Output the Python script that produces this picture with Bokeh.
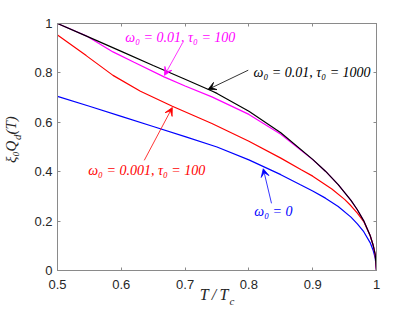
from bokeh.plotting import figure
from bokeh.models import Range1d, FixedTicker, LinearAxis, Label, Arrow, VeeHead
from bokeh.embed import file_html
from bokeh.resources import INLINE

# ---------------- data ----------------
t_black = [0.5, 0.55, 0.6, 0.65, 0.7, 0.742, 0.75, 0.8, 0.85, 0.9, 0.92, 0.94, 0.96, 0.97, 0.98, 0.99, 0.995, 0.998, 1.0]
q_black = [1.0, 0.944, 0.887, 0.830, 0.774, 0.727, 0.717, 0.645, 0.558, 0.450, 0.402, 0.348, 0.284, 0.246, 0.201, 0.142, 0.100, 0.064, 0.0]

t_magenta = [0.5, 0.545, 0.587, 0.62, 0.667, 0.7, 0.742, 0.8, 0.85, 0.9, 0.92, 0.94, 0.96, 0.97, 0.98, 0.99, 0.995, 0.998, 1.0]
q_magenta = [1.0, 0.950, 0.885, 0.843, 0.784, 0.747, 0.703, 0.632, 0.552, 0.449, 0.402, 0.348, 0.284, 0.246, 0.201, 0.142, 0.100, 0.064, 0.0]

t_red = [0.5, 0.545, 0.587, 0.63, 0.68, 0.742, 0.8, 0.85, 0.882, 0.9, 0.93, 0.95, 0.96, 0.97, 0.98, 0.99, 0.995, 0.998, 1.0]
q_red = [0.953, 0.870, 0.790, 0.726, 0.665, 0.595, 0.523, 0.455, 0.408, 0.382, 0.330, 0.288, 0.262, 0.232, 0.198, 0.142, 0.100, 0.064, 0.0]

t_blue = [0.5, 0.55, 0.6, 0.65, 0.7, 0.75, 0.8, 0.85, 0.88, 0.9, 0.92, 0.94, 0.96, 0.97, 0.98, 0.99, 0.995, 0.998, 1.0]
q_blue = [0.705, 0.665, 0.624, 0.583, 0.542, 0.500, 0.448, 0.388, 0.348, 0.322, 0.293, 0.259, 0.216, 0.189, 0.157, 0.113, 0.080, 0.050, 0.0]

x_ticks = [0.5, 0.6, 0.7, 0.8, 0.9, 1.0]
x_tick_labels = ["0.5", "0.6", "0.7", "0.8", "0.9", "1"]
y_ticks = [0.0, 0.2, 0.4, 0.6, 0.8, 1.0]
y_tick_labels = ["0", "0.2", "0.4", "0.6", "0.8", "1"]

series_labels = ["\u03c9\u2080 = 0.01, \u03c4\u2080 = 1000",
                 "\u03c9\u2080 = 0.01, \u03c4\u2080 = 100",
                 "\u03c9\u2080 = 0.001, \u03c4\u2080 = 100",
                 "\u03c9\u2080 = 0"]
colors = ["#000000", "#ff00ff", "#ff0000", "#0000ff"]

# axis titles, split so that the subscripts can sit lower
x_title_main = "T\u2009/\u2009T"
x_title_sub = "c"
y_title_main = ["\u03be\u2080Q", "(T)"]
y_title_sub = "d"

# ---------------- figure ----------------
AX = "#8a8a8a"
TICK_TXT = "#262626"
SERIF = "Liberation Serif"

p = figure(width=410, height=310, output_backend="svg", toolbar_location=None,
           x_range=Range1d(0.5, 1.0), y_range=Range1d(0.0, 1.0),
           min_border_left=54, min_border_right=34, min_border_top=23, min_border_bottom=40,
           background_fill_color="white", border_fill_color="white")
p.grid.visible = False
p.outline_line_color = AX
p.outline_line_width = 1

def style_axis(ax, ticks, labels, show_labels=True):
    ax.ticker = FixedTicker(ticks=ticks)
    ax.major_label_overrides = {t: (l if show_labels else "") for t, l in zip(ticks, labels)}
    ax.minor_tick_line_color = None
    ax.major_tick_in = 3
    ax.major_tick_out = 0
    ax.major_tick_line_color = AX
    ax.axis_line_color = AX
    ax.major_label_text_font = "Liberation Sans"
    ax.major_label_text_font_size = "13px"
    ax.major_label_text_color = TICK_TXT
    ax.axis_label = None

style_axis(p.xaxis[0], x_ticks, x_tick_labels)
style_axis(p.yaxis[0], y_ticks, y_tick_labels)
p.xaxis[0].major_label_standoff = 9
p.yaxis[0].major_label_standoff = 5

top = LinearAxis()
style_axis(top, x_ticks, x_tick_labels, show_labels=False)
top.major_label_text_font_size = "0px"
top.major_label_standoff = 0
p.add_layout(top, "above")
right = LinearAxis()
style_axis(right, y_ticks, y_tick_labels, show_labels=False)
right.major_label_text_font_size = "0px"
right.major_label_standoff = 0
p.add_layout(right, "right")

# title axes: tick-free axes whose only labels are the title pieces
def title_axis(side, ticks, texts, size, standoff, vertical=False):
    ax = LinearAxis()
    ax.ticker = FixedTicker(ticks=ticks)
    ax.major_label_overrides = dict(zip(ticks, texts))
    ax.minor_tick_line_color = None
    ax.major_tick_line_color = None
    ax.major_tick_in = 0
    ax.major_tick_out = 0
    ax.axis_line_color = None
    ax.major_label_text_font = SERIF
    ax.major_label_text_font_style = "italic"
    ax.major_label_text_font_size = size
    ax.major_label_text_color = TICK_TXT
    ax.major_label_standoff = standoff
    if vertical:
        ax.major_label_orientation = "vertical"
    p.add_layout(ax, side)
    return ax

# x title: "T/T" then lowered subscript "c"
title_axis("below", [0.7453], [x_title_main], "16px", -6)
title_axis("below", [0.7735], [x_title_sub], "11px", -11)
# y title: subscript "d" nearer the frame, main pieces further out
title_axis("left", [0.539], [y_title_sub], "11px", 8, vertical=True)
title_axis("left", [0.4806, 0.5875], y_title_main, "15px", -11, vertical=True)

# ---------------- curves ----------------
p.line(t_blue, q_blue, line_color=colors[3], line_width=1.2)
p.line(t_red, q_red, line_color=colors[2], line_width=1.2)
p.line(t_magenta, q_magenta, line_color=colors[1], line_width=1.2)
p.line(t_black, q_black, line_color=colors[0], line_width=1.2)

# ---------------- annotations ----------------
ann = [
    # text x, text y, arrow start, arrow end
    (0.899, 0.803, (0.799, 0.811), (0.736, 0.733)),
    (0.6925, 0.944, (0.6957, 0.920), (0.6677, 0.790)),
    (0.6398, 0.405, (0.636, 0.446), (0.680, 0.660)),
    (0.8385, 0.239, (0.8354, 0.272), (0.8225, 0.412)),
]
for (tx, ty, (xs, ys), (xe, ye)), txt, c in zip(ann, series_labels, colors):
    p.add_layout(Arrow(end=VeeHead(size=8, line_color=c, fill_color=c, line_width=0.8),
                       x_start=xs, y_start=ys, x_end=xe, y_end=ye,
                       line_color=c, line_width=0.8))
    p.add_layout(Label(x=tx, y=ty, text=txt, text_align="center", text_baseline="middle",
                       text_font=SERIF, text_font_style="italic",
                       text_font_size="14px", text_color=c))

open("out.html", "w").write(file_html(p, INLINE))
